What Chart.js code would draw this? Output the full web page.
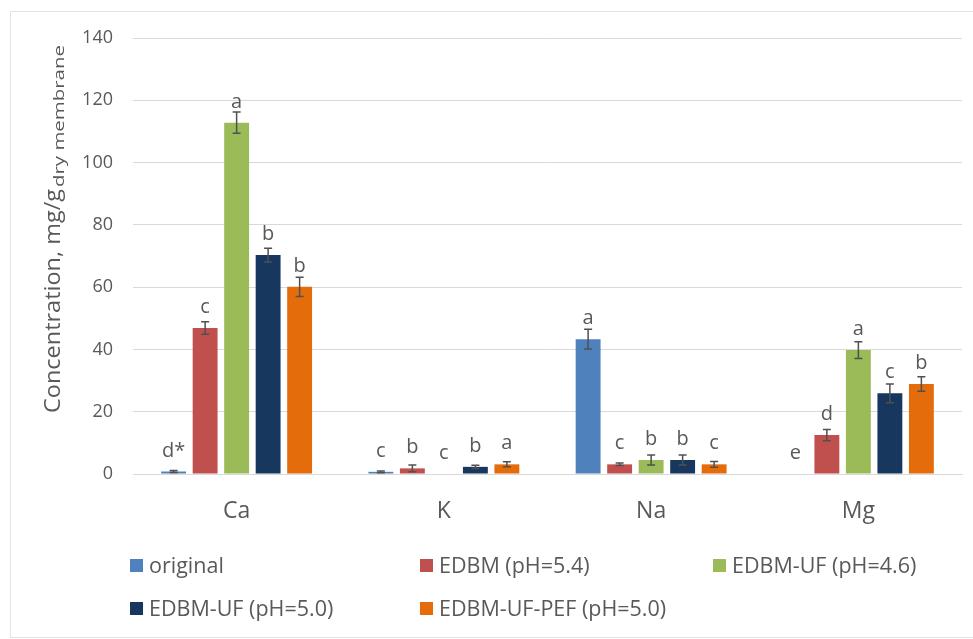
<!DOCTYPE html>
<html lang="en">
<head>
    <meta charset="UTF-8">
    <title>Concentration by ion</title>
    <script src="https://cdn.jsdelivr.net/npm/chart.js@4.4.1/dist/chart.umd.min.js"></script>
    <style>
        body {
            margin: 0;
            width: 973px;
            height: 639px;
            background: #ffffff;
            font-family: 'Open Sans', sans-serif;
            position: relative;
            overflow: hidden;
        }
        .frame {
            position: absolute;
            left: 10px;
            top: 11px;
            width: 980px;
            height: 625px;
            border: 1px solid #e3e3e3;
        }
        .chart-box {
            position: absolute;
            left: 0;
            top: 0;
            width: 973px;
            height: 639px;
        }
        .legend-item {
            position: absolute;
            font-size: 21.5px;
            color: #595959;
            line-height: 24px;
            white-space: nowrap;
        }
        .legend-item span {
            display: inline-block;
            width: 13px;
            height: 13px;
            margin-right: 6px;
            vertical-align: 1px;
        }
    </style>
</head>
<body>
    <div class="frame"></div>
    <div class="chart-box">
        <canvas id="ionChart" width="973" height="639"></canvas>
    </div>
    <div id="legend"></div>

    <script>
        // ions on the x axis
        const ions = ['Ca', 'K', 'Na', 'Mg'];

        const seriesNames = ['original', 'EDBM (pH=5.4)', 'EDBM-UF (pH=4.6)', 'EDBM-UF (pH=5.0)', 'EDBM-UF-PEF (pH=5.0)'];
        const seriesColors = ['#4f81bd', '#c0504d', '#9bbb59', '#17375e', '#e46c0a'];

        // mean values, mg/g dry membrane
        const original   = [0.8, 0.7, 43.3, 0];
        const edbm54     = [46.9, 1.8, 3.1, 12.5];
        const edbmUf46   = [112.8, 0, 4.5, 39.8];
        const edbmUf50   = [70.3, 2.3, 4.5, 25.9];
        const edbmUfPef  = [60.1, 3.1, 3.1, 28.9];

        // standard deviations (error bars)
        const errOriginal  = [0.3, 0.3, 3.2, 0];
        const errEdbm54    = [2.0, 1.1, 0.4, 1.8];
        const errEdbmUf46  = [3.4, 0, 1.6, 2.7];
        const errEdbmUf50  = [2.2, 0.5, 1.6, 3.0];
        const errEdbmUfPef = [3.1, 0.8, 0.9, 2.3];

        // significance letters
        const lblOriginal  = ['d*', 'c', 'a', 'e'];
        const lblEdbm54    = ['c', 'b', 'c', 'd'];
        const lblEdbmUf46  = ['a', 'c', 'b', 'a'];
        const lblEdbmUf50  = ['b', 'b', 'b', 'c'];
        const lblEdbmUfPef = ['b', 'a', 'c', 'b'];

        const yTicks = [0, 20, 40, 60, 80, 100, 120, 140];

        const values = [original, edbm54, edbmUf46, edbmUf50, edbmUfPef];
        const errors = [errOriginal, errEdbm54, errEdbmUf46, errEdbmUf50, errEdbmUfPef];
        const letters = [lblOriginal, lblEdbm54, lblEdbmUf46, lblEdbmUf50, lblEdbmUfPef];

        const textColor = '#595959';

        // error bars and letters on top of the bars
        const errorBarPlugin = {
            id: 'errorBars',
            afterDatasetsDraw(chart) {
                const ctx = chart.ctx;
                const y = chart.scales.y;
                ctx.save();
                chart.data.datasets.forEach((ds, i) => {
                    const meta = chart.getDatasetMeta(i);
                    meta.data.forEach((bar, j) => {
                        const v = ds.data[j];
                        const e = errors[i][j];
                        const x = bar.x;
                        if (e > 0) {
                            const yTop = y.getPixelForValue(v + e);
                            const yBot = y.getPixelForValue(Math.max(v - e, 0));
                            ctx.strokeStyle = '#505050';
                            ctx.lineWidth = 1.5;
                            ctx.beginPath();
                            ctx.moveTo(x, yTop);
                            ctx.lineTo(x, yBot);
                            ctx.moveTo(x - 4, yTop);
                            ctx.lineTo(x + 4, yTop);
                            ctx.moveTo(x - 4, yBot);
                            ctx.lineTo(x + 4, yBot);
                            ctx.stroke();
                        }
                        ctx.fillStyle = textColor;
                        ctx.font = '20px "Open Sans"';
                        ctx.textAlign = 'center';
                        ctx.textBaseline = 'alphabetic';
                        ctx.fillText(letters[i][j], x, y.getPixelForValue(v) - 15);
                    });
                });
                ctx.restore();
            }
        };

        // y axis title with subscript
        const axisTitlePlugin = {
            id: 'axisTitle',
            afterDraw(chart) {
                const ctx = chart.ctx;
                const main = 'Concentration, mg/g';
                const sub = 'dry membrane';
                ctx.save();
                ctx.fillStyle = textColor;
                ctx.translate(60, 413);
                ctx.rotate(-Math.PI / 2);
                ctx.textAlign = 'left';
                ctx.textBaseline = 'alphabetic';
                ctx.font = '22px "Open Sans"';
                const w = ctx.measureText(main).width;
                ctx.save();
                ctx.scale(224 / w, 1);
                ctx.fillText(main, 0, 0);
                ctx.restore();
                ctx.font = '15px "Open Sans"';
                const ws = ctx.measureText(sub).width;
                ctx.translate(226, 4);
                ctx.scale(142 / ws, 1);
                ctx.fillText(sub, 0, 0);
                ctx.restore();
            }
        };

        new Chart(document.getElementById('ionChart'), {
            type: 'bar',
            data: {
                labels: ions,
                datasets: values.map((vals, i) => ({
                    label: seriesNames[i],
                    data: vals,
                    backgroundColor: seriesColors[i],
                    borderWidth: 0,
                    categoryPercentage: 0.76,
                    barPercentage: 0.79
                }))
            },
            options: {
                responsive: false,
                animation: false,
                layout: {
                    padding: { top: 38, right: 11, left: 0, bottom: 0 }
                },
                plugins: {
                    legend: { display: false },
                    tooltip: { enabled: false }
                },
                scales: {
                    x: {
                        grid: { display: false },
                        border: { color: '#d9d9d9' },
                        ticks: {
                            color: textColor,
                            font: { family: 'Open Sans', size: 23 },
                            padding: 16
                        },
                        afterFit(scale) { scale.height = 165; }
                    },
                    y: {
                        min: 0,
                        max: 140,
                        afterBuildTicks(scale) {
                            scale.ticks = yTicks.map(v => ({ value: v }));
                        },
                        grid: { color: '#d9d9d9', drawTicks: false },
                        border: { display: false },
                        ticks: {
                            color: textColor,
                            font: { family: 'Open Sans', size: 18 },
                            padding: 20
                        },
                        afterFit(scale) { scale.width = 133; }
                    }
                }
            },
            plugins: [errorBarPlugin, axisTitlePlugin]
        });

        // legend laid out in a fixed grid like the original
        const legendPos = [[130, 553], [420, 553], [713, 553], [130, 596], [420, 596]];
        const legend = document.getElementById('legend');
        seriesNames.forEach((name, i) => {
            const item = document.createElement('div');
            item.className = 'legend-item';
            item.style.left = legendPos[i][0] + 'px';
            item.style.top = legendPos[i][1] + 'px';
            item.innerHTML = '<span style="background:' + seriesColors[i] + '"></span>' + name;
            legend.appendChild(item);
        });
    </script>
</body>
</html>
